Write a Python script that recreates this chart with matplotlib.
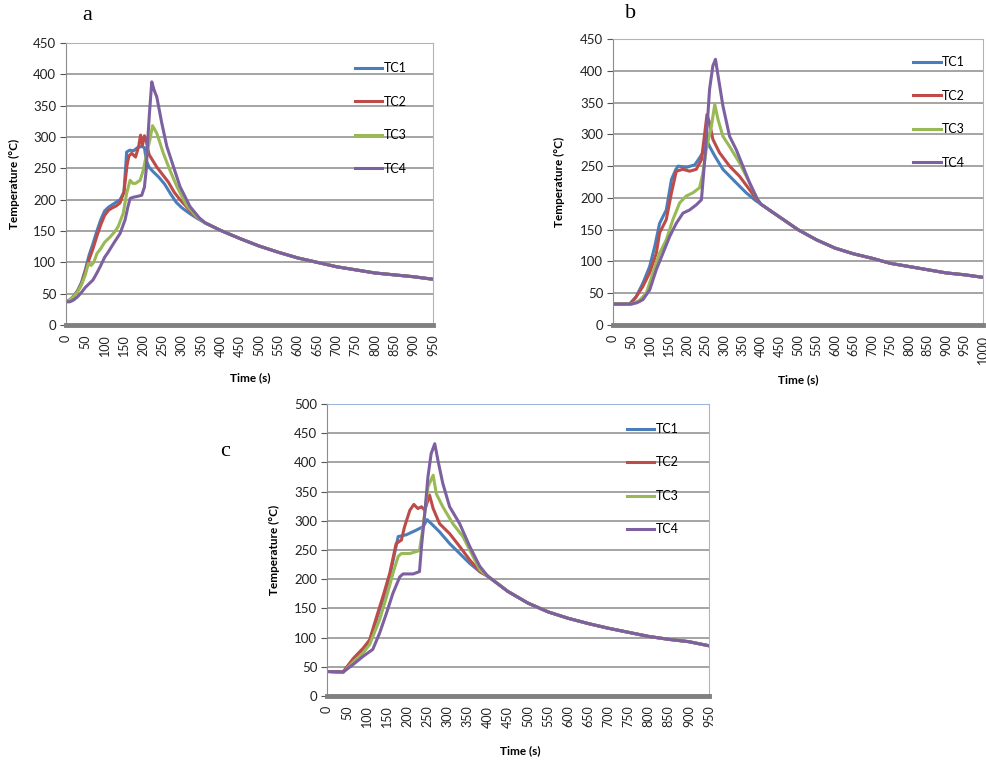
import numpy as np
import matplotlib
matplotlib.use('Agg')
import matplotlib.pyplot as plt

plt.rcParams['font.family'] = ['Lato', 'DejaVu Sans']

labels = ['TC1', 'TC2', 'TC3', 'TC4']
colors = ['#4a7ebb', '#be4b48', '#98b954', '#7d60a0']

# ---- panel a ----
tail_t_a = [360, 380, 400, 450, 500, 550, 600, 650, 700, 750, 800, 850, 900, 950]
tail_a = [163, 157, 151, 138, 126, 116, 107, 100, 93, 88, 83, 80, 77, 73]

t_a1 = [0, 10, 20, 30, 40, 50, 60, 70, 80, 90, 100, 110, 120, 130, 140, 150, 157, 165, 175, 185,
        195, 203, 208, 215, 225, 240, 255, 270, 285, 300, 320, 340]
tc1_a = [37, 40, 46, 55, 68, 88, 112, 130, 150, 168, 182, 188, 192, 196, 200, 212, 276, 279, 278, 283,
         285, 283, 262, 252, 245, 236, 225, 210, 196, 187, 178, 170]
t_a2 = [0, 10, 20, 30, 40, 50, 60, 70, 80, 90, 100, 110, 120, 130, 140, 150, 158, 163, 170, 180,
        188, 193, 198, 203, 208, 215, 225, 235, 250, 265, 280, 295, 310, 325, 340]
tc2_a = [37, 40, 46, 54, 65, 85, 105, 122, 142, 160, 175, 183, 187, 190, 195, 212, 255, 270, 274, 268,
         285, 303, 287, 302, 293, 272, 262, 252, 240, 228, 212, 200, 190, 180, 172]
t_a3 = [0, 10, 20, 30, 40, 50, 58, 65, 72, 80, 90, 100, 115, 125, 135, 148, 157, 166, 173, 180,
        192, 200, 209, 217, 224, 235, 252, 269, 287, 312, 338]
tc3_a = [37, 40, 46, 53, 64, 80, 98, 95, 100, 114, 122, 132, 141, 148, 157, 178, 210, 231, 226, 226,
         231, 247, 274, 295, 318, 306, 274, 247, 221, 191, 173]
t_a4 = [0, 10, 20, 30, 40, 50, 60, 70, 80, 90, 100, 110, 123, 140, 153, 160, 166, 175, 183, 196,
        203, 208, 211, 216, 222, 228, 235, 248, 261, 278, 295, 321, 345]
tc4_a = [37, 37, 40, 45, 52, 60, 66, 72, 83, 95, 108, 117, 130, 146, 168, 188, 202, 204, 205, 207,
         220, 250, 290, 338, 388, 375, 364, 322, 285, 253, 221, 189, 171]

# ---- panel b ----
tail_t_b = [400, 450, 500, 550, 600, 650, 700, 750, 800, 850, 900, 950, 1000]
tail_b = [190, 170, 150, 134, 121, 112, 105, 97, 92, 87, 82, 79, 75]

t_b1 = [0, 45, 63, 81, 99, 113, 126, 144, 158, 170, 176, 198, 221, 234, 248, 257, 261, 275, 297, 324, 360, 385]
tc1_b = [33, 33, 45, 66, 92, 124, 160, 181, 229, 245, 250, 248, 252, 263, 276, 286, 281, 266, 245, 229, 208, 196]
t_b2 = [0, 45, 60, 80, 99, 117, 126, 144, 158, 171, 189, 207, 225, 239, 248, 254, 261, 270, 288, 315, 342, 369, 390]
tc2_b = [33, 33, 42, 60, 82, 113, 145, 166, 208, 242, 245, 242, 245, 260, 302, 331, 318, 292, 271, 250, 234, 213, 196]
t_b3 = [0, 50, 70, 90, 108, 126, 144, 162, 180, 198, 216, 234, 243, 252, 266, 275, 284, 297, 315, 342, 369, 390]
tc3_b = [33, 33, 38, 50, 82, 113, 134, 166, 192, 203, 208, 216, 239, 276, 313, 347, 323, 297, 281, 255, 224, 198]
t_b4 = [0, 50, 65, 81, 99, 117, 135, 153, 171, 189, 207, 225, 239, 245, 252, 261, 270, 277, 284, 297,
        315, 333, 351, 369, 390]
tc4_b = [33, 33, 35, 40, 55, 87, 113, 139, 160, 176, 181, 189, 197, 239, 292, 371, 408, 418, 392, 345,
         297, 276, 250, 224, 198]

# ---- panel c ----
tail_t_c = [400, 450, 500, 550, 600, 650, 700, 750, 800, 850, 900, 950]
tail_c = [205, 179, 159, 144, 133, 124, 116, 109, 102, 97, 93, 86]

t_c1 = [0, 40, 65, 90, 106, 123, 139, 156, 168, 177, 197, 222, 239, 249, 264, 280, 305, 330, 355, 380]
tc1_c = [42, 41, 62, 80, 94, 131, 165, 204, 244, 273, 276, 284, 290, 302, 292, 281, 261, 244, 227, 213]
t_c2 = [0, 40, 65, 90, 106, 123, 139, 156, 172, 185, 193, 206, 216, 226, 235, 243, 255, 264, 280, 305, 330, 355, 380]
tc2_c = [42, 41, 64, 82, 96, 135, 170, 210, 261, 267, 290, 318, 328, 321, 324, 318, 344, 321, 295, 278, 256, 233, 213]
t_c3 = [0, 40, 65, 90, 106, 131, 148, 164, 177, 185, 206, 230, 239, 251, 264, 272, 288, 313, 338, 363, 380]
tc3_c = [42, 40, 58, 74, 88, 131, 170, 210, 239, 244, 244, 249, 290, 358, 378, 346, 324, 295, 273, 239, 216]
t_c4 = [0, 40, 65, 90, 114, 131, 148, 164, 181, 189, 214, 230, 235, 243, 251, 259, 268, 276, 288, 305, 330, 355, 380]
tc4_c = [42, 41, 54, 68, 80, 108, 142, 176, 204, 209, 209, 213, 256, 312, 375, 415, 432, 403, 364, 324, 295, 256, 222]


def draw_panel(ax, series, tail_t, tail_v, xmax, ymax, leg_xy):
    for (t, v), lab, col in zip(series, labels, colors):
        ax.plot(list(t) + tail_t, list(v) + tail_v, color=col, lw=2.2, label=lab)
    ax.set_xlim(0, xmax)
    ax.set_ylim(0, ymax)
    ax.set_xticks(np.arange(0, xmax + 1, 50))
    ax.set_yticks(np.arange(0, ymax + 1, 50))
    ax.tick_params(axis='x', length=0, pad=7, labelsize=9, rotation=90, colors='#222222')
    ax.tick_params(axis='y', length=4, width=0.8, pad=3, labelsize=9.5, colors='#555555', labelcolor='#222222')
    ax.yaxis.grid(True, color='#8c8c8c', lw=1.1)
    ax.set_axisbelow(True)
    ax.spines['top'].set_color('#9db7d8')
    ax.spines['right'].set_color('#9db7d8')
    ax.spines['left'].set_color('#8c8c8c')
    ax.spines['bottom'].set_color('#808080')
    ax.spines['bottom'].set_linewidth(3.5)
    ax.legend(loc='upper left', bbox_to_anchor=leg_xy, frameon=False, fontsize=9,
              handlelength=2.2, handletextpad=0.1, labelspacing=1.72,
              borderpad=0, borderaxespad=0)


fig = plt.figure(figsize=(9.87, 7.6), dpi=100)

ax_a = fig.add_axes([66 / 987, 1 - 325 / 760, 367 / 987, 282 / 760])
draw_panel(ax_a, [(t_a1, tc1_a), (t_a2, tc2_a), (t_a3, tc3_a), (t_a4, tc4_a)],
           tail_t_a, tail_a, 950, 450, (0.787, 0.932))

ax_b = fig.add_axes([613 / 987, 1 - 325 / 760, 370 / 987, 286 / 760])
draw_panel(ax_b, [(t_b1, tc1_b), (t_b2, tc2_b), (t_b3, tc3_b), (t_b4, tc4_b)],
           tail_t_b, tail_b, 1000, 450, (0.811, 0.940))

ax_c = fig.add_axes([327 / 987, 1 - 696 / 760, 382 / 987, 292 / 760])
draw_panel(ax_c, [(t_c1, tc1_c), (t_c2, tc2_c), (t_c3, tc3_c), (t_c4, tc4_c)],
           tail_t_c, tail_c, 950, 500, (0.785, 0.935))

# axis titles and panel letters
for x, y in [(14, 184), (559, 182), (274, 550)]:
    fig.text(x / 987, 1 - y / 760, 'Temperature (°C)', rotation=90, ha='center', va='center',
             fontsize=8.5, fontweight='bold')
for x, y in [(250, 378), (798, 380), (520, 751)]:
    fig.text(x / 987, 1 - y / 760, 'Time (s)', ha='center', va='center',
             fontsize=8.5, fontweight='bold')
for s, x, y in [('a', 87, 16), ('b', 631, 14), ('c', 225, 451)]:
    fig.text(x / 987, 1 - y / 760, s, ha='center', va='center', fontsize=16,
             family='Liberation Serif')

fig.savefig('out.png', dpi=100)
